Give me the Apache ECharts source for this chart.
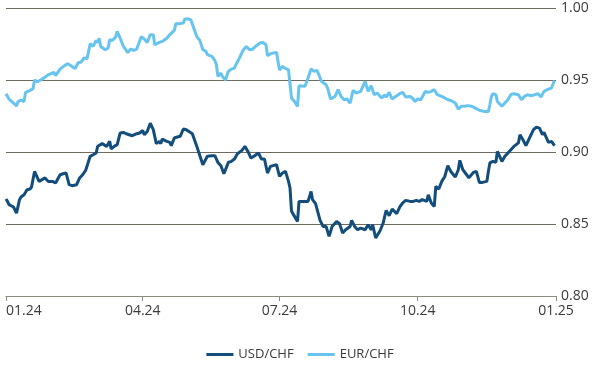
<!DOCTYPE html>
<html>
<head>
<meta charset="utf-8">
<script src="https://cdn.jsdelivr.net/npm/echarts@6/dist/echarts.min.js"></script>
<style>
html,body{margin:0;padding:0;background:#fff;}
#chart{width:600px;height:380px;}
</style>
</head>
<body>
<div id="chart"></div>
<script>
// Days counted from 1 January 2024
const startDate = '2024-01-01';
const seriesNames = ['USD/CHF', 'EUR/CHF'];

const usdDays = [
0,1,2,5,6,7,9,10,12,13,
14,16,17,19,20,22,23,26,28,29,
31,33,36,38,40,42,44,47,49,51,
53,54,56,58,60,61,62,64,67,69,
70,72,74,76,78,80,82,84,87,89,
91,92,94,96,98,99,100,102,103,104,
107,109,110,112,114,116,118,120,122,124,
127,129,131,132,134,137,139,141,143,145,
148,150,152,154,157,159,161,163,165,168,
170,172,174,176,180,182,184,186,188,189,
190,192,194,195,198,201,203,204,206,209,
211,213,215,217,220,222,224,226,229,230,
232,234,236,239,241,243,244,246,249,251,
252,253,255,257,260,262,264,266,269,271,
273,275,277,280,281,283,285,286,288,290,
292,294,296,299,301,302,304,306,308,311,
313,315,317,320,321,322,324,326,327,330,
332,334,336,338,341,342,344,346,348,351,
353,355,357,358,361,363,365];
const usdValues = [
0.8674,0.8657,0.8634,0.8618,0.8611,0.8576,0.8669,0.8688,0.8703,0.872,
0.8738,0.8743,0.8757,0.8865,0.8854,0.8796,0.8808,0.882,0.8796,0.8808,
0.8796,0.8785,0.8842,0.8849,0.8854,0.8773,0.8766,0.8773,0.882,0.8842,
0.8872,0.8865,0.897,0.8981,0.8993,0.904,0.9028,0.9058,0.9039,0.9074,
0.9021,0.9039,0.9051,0.9132,0.9136,0.9127,0.912,0.9113,0.9127,0.9132,
0.915,0.912,0.9143,0.920,0.9155,0.9108,0.9058,0.9074,0.9058,0.909,
0.9074,0.9067,0.9044,0.9097,0.9104,0.9109,0.916,0.9155,0.914,0.9127,
0.9039,0.8974,0.8912,0.89,0.897,0.8974,0.8974,0.8928,0.8905,0.8849,
0.8928,0.8935,0.8951,0.8988,0.9011,0.9039,0.9004,0.8958,0.897,0.8993,
0.8951,0.8951,0.8854,0.89,0.8912,0.8831,0.8854,0.8865,0.8796,0.875,
0.8588,0.8553,0.8518,0.8657,0.8657,0.8657,0.8726,0.8669,0.8641,0.8525,
0.8483,0.8483,0.8414,0.8483,0.8518,0.8502,0.8437,0.846,0.8483,0.8525,
0.8483,0.846,0.8472,0.846,0.8495,0.846,0.8495,0.8403,0.8455,0.8507,
0.8553,0.8594,0.8558,0.8604,0.8572,0.8618,0.8646,0.8664,0.8657,0.8657,
0.8664,0.8657,0.8669,0.8657,0.8703,0.8646,0.8622,0.8761,0.8743,0.8796,
0.883,0.8905,0.8865,0.8826,0.8877,0.8942,0.8877,0.8849,0.882,0.8858,
0.8865,0.8789,0.8789,0.8796,0.8865,0.8924,0.8935,0.8928,0.9004,0.8935,
0.897,0.8993,0.9016,0.9039,0.9063,0.912,0.9085,0.9044,0.909,0.9155,
0.9173,0.9166,0.912,0.9136,0.9067,0.9074,0.9044];

const eurDays = [
0,2,5,7,8,10,12,13,16,18,
19,21,23,26,28,30,32,33,36,39,
41,43,46,48,50,52,54,56,58,60,
61,62,63,66,68,69,71,73,74,76,
78,81,83,85,87,90,92,94,96,98,
99,102,104,107,109,112,113,115,118,119,
121,123,124,127,129,131,133,134,137,139,
140,141,143,144,146,148,150,152,153,155,
158,160,162,164,166,169,171,173,174,176,
180,182,184,186,188,190,192,194,195,199,
201,203,205,207,210,213,214,216,219,221,
223,225,227,229,231,233,236,239,241,243,
245,247,250,252,253,255,257,260,262,264,
266,269,271,272,274,276,279,281,283,285,
287,290,292,294,296,299,301,303,305,307,
310,312,315,316,318,321,322,323,324,326,
327,330,332,334,336,338,341,343,345,347,
349,352,354,356,358,361,363,365];
const eurValues = [
0.9405,0.9368,0.934,0.932,0.935,0.936,0.935,0.9414,0.9428,0.944,
0.950,0.9488,0.950,0.952,0.9535,0.9544,0.9553,0.953,0.9576,0.960,
0.9613,0.960,0.958,0.962,0.9625,0.9653,0.965,0.9752,0.9733,0.9775,
0.976,0.979,0.9733,0.971,0.9722,0.978,0.9775,0.980,0.9838,0.979,
0.9736,0.969,0.9715,0.9706,0.9715,0.980,0.9785,0.9761,0.9815,0.9815,
0.9745,0.9761,0.9768,0.979,0.9815,0.9845,0.9891,0.9891,0.9896,0.9923,
0.9923,0.9919,0.9919,0.980,0.9775,0.971,0.970,0.9676,0.9664,0.9636,
0.9606,0.9525,0.9548,0.9525,0.950,0.956,0.9576,0.9583,0.9606,0.9646,
0.971,0.9733,0.971,0.9713,0.9733,0.9757,0.9761,0.9745,0.9669,0.9683,
0.9692,0.957,0.9594,0.958,0.957,0.9375,0.9351,0.9317,0.946,0.9456,
0.9514,0.9576,0.956,0.9567,0.949,0.9467,0.9444,0.9368,0.9386,0.9433,
0.9386,0.9363,0.9368,0.934,0.9428,0.941,0.9421,0.949,0.9421,0.946,
0.9398,0.941,0.9375,0.9398,0.938,0.9414,0.9368,0.9391,0.9405,0.9414,
0.9382,0.9386,0.9368,0.935,0.9368,0.9363,0.942,0.9414,0.9421,0.9433,
0.9398,0.9386,0.9375,0.9363,0.9358,0.934,0.9298,0.9317,0.9317,0.9322,
0.9317,0.9306,0.929,0.9294,0.9282,0.9282,0.9328,0.9386,0.9405,0.9398,
0.9351,0.9317,0.934,0.9363,0.940,0.9405,0.9398,0.9363,0.9386,0.9398,
0.9391,0.9398,0.9405,0.9382,0.9421,0.9437,0.9444,0.9497];

const xTickDates = ['2024-01-01','2024-04-01','2024-07-01','2024-10-01','2025-01-01'];
const xTickLabels = ['01.24','04.24','07.24','10.24','01.25'];
const yMin = 0.80, yMax = 1.00, yStep = 0.05;

const DAY_MS = 86400000;
function ts(s){ const p = s.split('-').map(Number); return Date.UTC(p[0], p[1]-1, p[2]); }
const t0 = ts(startDate);
const xTicks = xTickDates.map(ts);
const usdData = usdDays.map((d,i)=>[t0 + d*DAY_MS, usdValues[i]]);
const eurData = eurDays.map((d,i)=>[t0 + d*DAY_MS, eurValues[i]]);

const FONT = 'Open Sans';
const TEXT = '#3a3a3a';
const chart = echarts.init(document.getElementById('chart'), null, {renderer:'canvas'});
chart.setOption({
  animation: false,
  backgroundColor: '#ffffff',
  textStyle: {fontFamily: FONT},
  grid: {left: 6, right: 44, top: 8, bottom: 84, containLabel: false},
  legend: {
    data: seriesNames,
    bottom: 14,
    left: 'center',
    icon: 'rect',
    itemWidth: 27,
    itemHeight: 3,
    itemGap: 14,
    textStyle: {fontFamily: FONT, fontSize: 13, color: TEXT}
  },
  xAxis: {
    type: 'value',
    min: xTicks[0],
    max: xTicks[xTicks.length-1],
    axisLine: {show: true, lineStyle: {color: '#8d8a7e', width: 1}},
    axisTick: {show: true, customValues: xTicks, length: 5, lineStyle: {color: '#8d8a7e'}},
    splitLine: {show: false},
    axisLabel: {
      customValues: xTicks,
      showMinLabel: true, showMaxLabel: true,
      alignMinLabel: 'left',
      margin: 8,
      fontFamily: FONT, fontSize: 14, color: TEXT,
      formatter: function(v){ const i = xTicks.indexOf(v); return i >= 0 ? xTickLabels[i] : ''; }
    }
  },
  yAxis: {
    type: 'value',
    position: 'right',
    min: yMin, max: yMax, interval: yStep,
    axisLine: {show: false},
    axisTick: {show: false},
    splitLine: {show: true, lineStyle: {color: '#6f6b5f', width: 1}},
    axisLabel: {
      margin: 5,
      fontFamily: FONT, fontSize: 14, color: TEXT,
      formatter: v => v.toFixed(2)
    }
  },
  series: [
    {name: seriesNames[0], type: 'line', data: usdData, showSymbol: false, symbol: 'none',
     lineStyle: {color: '#124d7c', width: 3}, itemStyle: {color: '#124d7c'}, z: 3},
    {name: seriesNames[1], type: 'line', data: eurData, showSymbol: false, symbol: 'none',
     lineStyle: {color: '#66c4ef', width: 3}, itemStyle: {color: '#66c4ef'}, z: 2}
  ]
});
</script>
</body>
</html>
